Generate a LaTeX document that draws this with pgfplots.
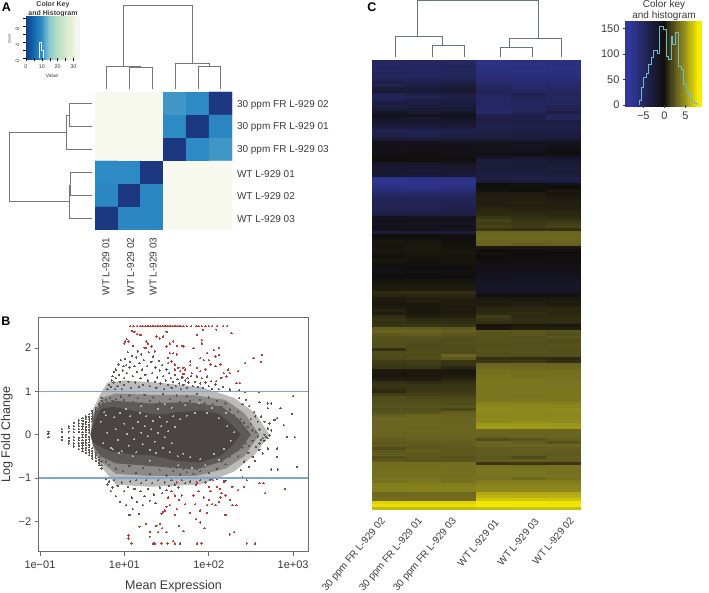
\documentclass[border=0pt]{standalone}
\usepackage{pgfplots}
\usepackage{pgfplotstable}
\usepackage{fontspec}
\setmainfont{Liberation Sans}
\pgfplotsset{compat=1.18}

\definecolor{txt}{HTML}{3A3A3A}
\definecolor{dend}{HTML}{767676}
\definecolor{dendc}{HTML}{66757F}
\definecolor{dots}{HTML}{4A4543}
\definecolor{fringe}{HTML}{5C5755}
\definecolor{lay1}{HTML}{BDBBB9}
\definecolor{lay2}{HTML}{8C8987}
\definecolor{lay3}{HTML}{5E5A58}
\definecolor{speck}{HTML}{B8B6B4}
\definecolor{redd}{HTML}{C23B33}
\definecolor{hline}{HTML}{7AA6D3}
\definecolor{cyanl}{HTML}{6FB9CB}

\pgfdeclareplotmark{bandC}{\pgfpathrectangle{\pgfpoint{-17.8pt}{-1.7pt}}{\pgfpoint{35.6pt}{3.4pt}}\pgfusepathqfill}
\pgfdeclareplotmark{keyA}{\pgfpathrectangle{\pgfpoint{-1.1pt}{-22pt}}{\pgfpoint{2.2pt}{44pt}}\pgfusepathqfill}
\pgfdeclareplotmark{keyC}{\pgfpathrectangle{\pgfpoint{-1.4pt}{-43pt}}{\pgfpoint{2.8pt}{86pt}}\pgfusepathqfill}

\pgfplotsset{
  colormap={gnbu}{rgb255(0cm)=(27,56,128); rgb255(4cm)=(11,95,165); rgb255(10cm)=(46,138,196);
    rgb255(15cm)=(136,200,207); rgb255(20cm)=(181,221,195); rgb255(27cm)=(220,235,208); rgb255(33cm)=(247,248,238)},
  colormap={bky}{rgb255(0cm)=(50,56,155); rgb255(8cm)=(16,14,12); rgb255(11cm)=(105,100,32);
    rgb255(13cm)=(150,145,28); rgb255(16cm)=(248,235,0)},
  canvas/.style={at={(0pt,0pt)},anchor=south west,scale only axis,width=709pt,height=592pt,
    xmin=0,xmax=709,ymin=0,ymax=592,y dir=reverse,hide axis,clip=false},
}

% panel A distances, row 0 on top
\pgfplotstableread{
x y z
0 0 33
1 0 33
2 0 33
3 0 11
4 0 10
5 0 0
0 1 33
1 1 33
2 1 33
3 1 10
4 1 0
5 1 9.5
0 2 33
1 2 33
2 2 33
3 2 0
4 2 10
5 2 11
0 3 10
1 3 10
2 3 0
3 3 33
4 3 33
5 3 33
0 4 9.5
1 4 0
2 4 9.5
3 4 33
4 4 33
5 4 33
0 5 0
1 5 9.5
2 5 9.5
3 5 33
4 5 33
5 5 33
}\heatA

% panel C, one row per band, y in pixels from the top
\pgfplotstableread{
y c1 c2 c3 c4 c5 c6
61.5 -4.8 -4.6 -4.7 -6.6 -6.4 -6.5
64.5 -5.0 -4.8 -4.6 -6.8 -6.6 -6.4
67.5 -4.5 -4.6 -4.3 -6.6 -6.5 -6.5
70.5 -4.8 -5.0 -4.6 -6.5 -6.6 -6.4
73.5 -4.4 -4.6 -4.4 -6.2 -6.3 -6.3
76.5 -4.6 -4.8 -4.5 -6.0 -6.2 -6.2
79.5 -4.0 -4.2 -4.0 -5.8 -6.0 -6.0
82.5 -3.4 -3.5 -3.2 -5.6 -5.8 -5.6
85.5 -3.8 -3.0 -2.8 -5.0 -5.4 -5.2
88.5 -2.6 -2.6 -2.2 -4.6 -5.0 -5.0
91.5 -2.2 -2.4 -2.0 -4.4 -4.8 -4.6
94.5 -4.0 -3.6 -3.0 -4.6 -3.8 -4.4
97.5 -4.2 -4.0 -3.4 -4.8 -4.0 -4.6
100.5 -3.8 -3.0 -3.0 -5.0 -4.4 -4.6
103.5 -2.8 -3.0 -2.8 -4.8 -4.6 -4.4
106.5 -3.0 -2.6 -2.6 -5.0 -4.6 -4.2
109.5 -2.6 -2.4 -2.2 -5.2 -4.8 -4.0
112.5 -1.6 -2.0 -1.6 -5.2 -4.2 -3.0
115.5 -0.8 -1.0 -0.8 -3.6 -3.4 -4.4
118.5 -1.6 -1.8 -1.6 -3.4 -3.2 -4.6
121.5 -2.0 -2.0 -1.8 -3.2 -3.2 -3.0
124.5 -2.2 -2.2 -2.0 -3.6 -3.4 -3.2
127.5 -2.8 -2.8 -2.6 -3.8 -3.4 -3.4
130.5 -3.8 -3.8 -3.6 -3.6 -3.2 -3.2
133.5 -3.6 -3.8 -3.4 -3.2 -3.0 -3.0
136.5 -3.2 -3.4 -3.0 -3.0 -2.8 -2.8
139.5 -2.4 -2.6 -2.4 -2.4 -2.6 -2.2
142.5 -0.8 -0.8 -1.0 -1.0 -1.2 -1.0
145.5 -0.6 -0.8 -0.8 -0.8 -1.2 -0.8
148.5 -0.7 -0.6 -0.7 -1.0 -1.0 -0.6
151.5 -0.6 -0.6 -0.6 -0.8 -0.8 -0.2
154.5 -0.6 -0.4 -0.5 -0.4 -0.4 -0.2
157.5 -0.3 -0.3 -0.4 -1.6 -1.8 -1.4
160.5 -0.1 -0.1 -0.2 -2.4 -2.4 -2.0
163.5 -1.4 -1.6 -1.2 -2.6 -2.6 -2.4
166.5 -2.0 -2.0 -1.8 -2.8 -2.6 -2.6
169.5 -2.0 -2.2 -2.0 -2.6 -2.6 -2.8
172.5 -1.8 -2.0 -2.0 -2.8 -2.8 -2.6
175.5 -2.2 -2.2 -2.4 -3.0 -3.0 -2.8
178.5 -7.0 -6.8 -6.6 -3.0 -3.2 -3.4
181.5 -7.4 -7.2 -7.0 -2.4 -2.6 -3.0
184.5 -7.0 -7.0 -6.8 0.0 -0.2 -0.6
187.5 -6.6 -6.8 -6.4 0.1 0.1 0.0
190.5 -6.0 -6.2 -5.8 0.1 0.0 0.3
193.5 -5.4 -5.2 -5.2 0.4 0.4 0.2
196.5 -4.6 -4.6 -4.4 0.6 0.6 0.4
199.5 -4.2 -4.2 -4.0 0.6 0.6 0.5
202.5 -4.0 -4.0 -4.0 0.6 0.7 0.6
205.5 -4.0 -4.2 -3.8 0.6 0.6 0.6
208.5 -3.8 -4.0 -3.6 0.8 0.7 0.6
211.5 -3.6 -3.4 -3.4 0.9 0.8 0.8
214.5 -3.0 -3.0 -3.0 1.0 1.0 0.9
217.5 -1.0 -1.2 -1.0 1.4 1.2 1.0
220.5 -0.8 -0.8 -0.8 1.8 1.4 1.4
223.5 -1.0 -1.0 -1.2 1.6 1.5 1.6
226.5 -0.8 -1.0 -0.8 1.8 1.6 1.8
229.5 -0.8 -0.8 -1.0 1.4 1.2 1.2
232.5 -2.6 -2.4 -2.6 3.0 3.0 3.0
235.5 0.0 0.0 -0.2 3.2 3.2 3.2
238.5 0.1 0.1 -0.1 3.2 3.2 3.1
241.5 0.3 0.2 0.1 3.0 3.0 3.0
244.5 0.3 0.3 0.1 3.0 2.8 2.9
247.5 0.2 0.4 0.2 0.3 0.3 0.3
250.5 0.3 0.4 0.3 0.0 0.1 0.1
253.5 0.2 0.3 0.3 0.1 -0.1 0.0
256.5 0.1 0.2 0.2 0.0 -0.2 -0.1
259.5 0.3 0.2 0.2 -0.1 -0.1 -0.1
262.5 0.2 0.1 0.2 -0.2 -0.4 -0.2
265.5 0.1 0.1 0.1 -0.6 -0.6 -0.5
268.5 -0.4 -0.3 -0.3 -0.6 -0.8 -0.6
271.5 -0.5 -0.4 -0.4 -0.8 -0.8 -0.8
274.5 -0.3 -0.2 -0.3 -1.0 -1.0 -0.9
277.5 0.0 0.1 0.0 -1.0 -1.2 -1.0
280.5 0.2 0.2 0.2 -1.4 -1.4 -1.4
283.5 0.3 0.3 0.3 -1.6 -1.6 -1.6
286.5 0.4 0.4 0.4 -1.6 -1.6 -1.6
289.5 0.5 0.5 0.5 -1.6 -1.6 -1.6
292.5 1.0 1.1 1.1 -1.4 -1.4 -1.4
295.5 0.8 0.9 0.9 0.1 0.1 0.1
298.5 0.5 0.6 0.6 0.3 0.4 0.3
301.5 0.4 0.6 0.5 0.5 0.5 0.5
304.5 0.3 0.3 0.5 0.5 0.6 0.5
307.5 0.5 0.3 0.4 0.8 0.8 0.8
310.5 0.7 0.4 0.5 0.9 0.9 0.9
313.5 0.5 0.4 0.5 1.0 1.1 0.9
316.5 1.1 0.6 0.6 1.6 1.0 1.0
319.5 1.3 1.0 1.0 1.4 1.2 1.1
322.5 1.2 1.1 1.1 1.2 1.0 1.0
325.5 1.3 1.4 1.3 0.2 0.4 0.3
328.5 2.8 2.7 2.6 0.3 0.6 0.6
331.5 3.0 3.0 2.8 2.5 2.5 2.4
334.5 2.6 2.8 2.5 2.4 2.5 2.3
337.5 2.4 2.4 2.3 2.4 2.3 2.5
340.5 2.3 2.3 2.2 2.4 2.4 2.2
343.5 2.3 2.2 2.3 2.3 2.3 2.3
346.5 2.3 2.1 2.2 2.3 2.3 2.4
349.5 1.2 2.2 2.2 2.4 2.3 2.3
352.5 2.2 2.2 2.1 2.3 2.4 2.3
355.5 2.2 2.1 3.0 2.2 2.2 2.3
358.5 2.0 2.2 2.6 1.2 1.1 1.0
361.5 1.6 1.7 1.4 1.4 1.5 1.2
364.5 1.5 1.6 1.3 3.0 3.0 3.0
367.5 1.4 1.4 0.9 3.2 3.2 3.1
370.5 0.4 0.5 0.3 3.6 3.4 3.4
373.5 0.3 0.4 0.3 3.6 3.6 3.6
376.5 0.3 0.3 0.5 3.7 3.5 3.6
379.5 0.6 0.5 0.8 3.7 3.7 3.6
382.5 1.2 1.0 1.1 3.9 3.8 3.7
385.5 1.4 1.3 1.3 3.8 3.8 3.7
388.5 1.2 1.4 1.4 3.7 3.7 3.7
391.5 0.9 1.5 1.5 3.7 3.8 3.8
394.5 1.7 1.7 1.7 3.8 3.8 3.8
397.5 2.2 2.0 2.0 3.8 3.7 3.8
400.5 2.2 2.2 2.1 3.8 3.9 3.8
403.5 2.3 2.3 2.2 4.4 4.4 4.3
406.5 2.4 2.4 2.4 4.6 4.6 4.5
409.5 2.3 2.3 2.0 4.7 4.6 4.7
412.5 2.4 2.4 2.8 4.6 4.6 4.6
415.5 2.8 3.0 2.9 4.5 4.6 4.5
418.5 3.1 3.0 3.0 4.6 4.6 4.6
421.5 3.0 3.0 3.0 4.6 4.8 4.7
424.5 3.0 3.0 3.0 5.2 5.2 5.1
427.5 3.0 3.0 3.0 5.4 5.3 5.2
430.5 3.0 3.1 3.0 3.2 3.1 3.0
433.5 3.0 3.0 3.0 3.0 3.0 3.0
436.5 3.0 3.0 3.0 2.9 3.0 3.0
439.5 2.7 2.9 2.9 2.2 2.4 2.8
442.5 2.6 2.7 2.8 3.0 2.8 2.4
445.5 2.7 2.6 2.7 3.0 3.0 3.0
448.5 2.2 2.6 2.6 2.8 2.8 2.8
451.5 2.6 2.8 2.6 2.7 2.8 2.7
454.5 2.7 2.6 2.6 2.7 2.7 2.6
457.5 2.3 2.5 2.4 2.6 2.1 2.8
460.5 2.6 2.4 2.5 2.7 2.8 2.7
463.5 3.4 3.4 3.4 1.4 1.4 1.4
466.5 3.4 3.4 3.4 3.6 3.5 3.6
469.5 3.5 3.5 3.4 3.8 3.7 3.6
472.5 3.6 3.6 3.5 3.7 3.7 3.6
475.5 3.4 3.4 3.5 3.7 3.7 3.7
478.5 3.7 3.7 3.6 3.6 3.2 3.6
481.5 3.6 3.8 3.6 4.0 4.0 4.0
484.5 4.2 4.2 4.1 4.4 4.4 4.4
487.5 4.3 4.3 4.3 4.5 4.5 4.5
490.5 4.2 4.3 4.3 4.6 4.6 4.6
493.5 3.2 3.2 3.2 5.8 5.7 5.7
496.5 3.3 3.3 3.3 6.2 6.1 6.1
499.5 3.4 3.3 3.3 6.8 6.8 6.7
502.5 7.2 7.2 7.2 7.8 7.8 7.7
505.5 7.6 7.6 7.6 7.9 7.8 7.8
508.5 6.4 6.4 6.4 6.6 6.6 6.6
}\heatC

\begin{document}
\begin{tikzpicture}
\useasboundingbox (0,0) rectangle (709pt,592pt);

% dendrograms and free text, in pixel units
\begin{axis}[canvas]
% A top
\addplot[dend,line width=1pt] coordinates {(123.3,66.7)(123.3,5.7)(192.3,5.7)(192.3,63.3)};
\addplot[dend,line width=1pt] coordinates {(106.7,89)(106.7,66.7)(140.7,66.7)(140.7,67.7)};
\addplot[dend,line width=1pt] coordinates {(129.3,89)(129.3,67.7)(152.3,67.7)(152.3,89)};
\addplot[dend,line width=1pt] coordinates {(175,89)(175,63.3)(209.7,63.3)(209.7,66.3)};
\addplot[dend,line width=1pt] coordinates {(198,89)(198,66.3)(220.7,66.3)(220.7,89)};
% A left
\addplot[dend,line width=1pt] coordinates {(66.7,132.3)(9,132.3)(9,201.3)(70,201.3)};
\addplot[dend,line width=1pt] coordinates {(69.3,115.7)(66.7,115.7)(66.7,149.7)(92,149.7)};
\addplot[dend,line width=1pt] coordinates {(92,103.7)(69.3,103.7)(69.3,126.3)(92,126.3)};
\addplot[dend,line width=1pt] coordinates {(92,172.7)(70.7,172.7)(70.7,195.7)(92,195.7)};
\addplot[dend,line width=1pt] coordinates {(70.7,185)(69.3,185)(69.3,218.3)(92,218.3)};
% C top
\addplot[dendc,line width=1pt] coordinates {(417.7,36.3)(417.7,0.6)(538,0.6)(538,38.3)};
\addplot[dendc,line width=1pt] coordinates {(395.7,57.3)(395.7,36.3)(442.3,36.3)(442.3,45.7)};
\addplot[dendc,line width=1pt] coordinates {(432.3,57.3)(432.3,45.7)(464,45.7)(464,57.3)};
\addplot[dendc,line width=1pt] coordinates {(509.7,47.3)(509.7,38.3)(561,38.3)(561,57.3)};
\addplot[dendc,line width=1pt] coordinates {(500,57.3)(500,47.3)(532.3,47.3)(532.3,57.3)};

\node[font=\fontsize{12.5}{14}\selectfont\bfseries,anchor=center] at (axis cs:6.5,7.5) {A};
\node[font=\fontsize{12.5}{14}\selectfont\bfseries,anchor=center] at (axis cs:6,321) {B};
\node[font=\fontsize{12.5}{14}\selectfont\bfseries,anchor=center] at (axis cs:372,7) {C};

\node[font=\fontsize{7}{8}\selectfont\bfseries,text=txt] at (axis cs:53,5) {Color Key};
\node[font=\fontsize{7}{8}\selectfont\bfseries,text=txt] at (axis cs:53,13.5) {and Histogram};
\node[font=\fontsize{5}{6}\selectfont,text=txt] at (axis cs:52,75.5) {Value};
\node[font=\fontsize{3.6}{4}\selectfont,text=txt,rotate=90] at (axis cs:9.5,39) {Count};
\node[font=\fontsize{10}{12}\selectfont,text=txt] at (axis cs:664,4.5) {Color key};
\node[font=\fontsize{10}{12}\selectfont,text=txt] at (axis cs:664,16) {and histogram};

\foreach \yy/\lab in {104.7/30 ppm FR L-929 02,127.3/30 ppm FR L-929 01,150/30 ppm FR L-929 03,174.3/WT L-929 01,196.3/WT L-929 02,219/WT L-929 03}{
  \edef\tmp{\noexpand\node[anchor=west,font=\noexpand\fontsize{10}{12}\noexpand\selectfont,text=txt] at (axis cs:233.5,\yy) {\lab};}\tmp
}
\node[anchor=east,rotate=90,font=\fontsize{10}{12}\selectfont,text=txt] at (axis cs:106,234) {WT L-929 01};
\node[anchor=east,rotate=90,font=\fontsize{10}{12}\selectfont,text=txt] at (axis cs:130.7,234) {WT L-929 02};
\node[anchor=east,rotate=90,font=\fontsize{10}{12}\selectfont,text=txt] at (axis cs:153.3,234) {WT L-929 03};

\node[anchor=east,rotate=50,font=\fontsize{10}{12}\selectfont,text=txt] at (axis cs:386,517) {30 ppm FR L-929 02};
\node[anchor=east,rotate=50,font=\fontsize{10}{12}\selectfont,text=txt] at (axis cs:423,517) {30 ppm FR L-929 01};
\node[anchor=east,rotate=50,font=\fontsize{10}{12}\selectfont,text=txt] at (axis cs:457,517) {30 ppm FR L-929 03};
\node[anchor=east,rotate=50,font=\fontsize{10}{12}\selectfont,text=txt] at (axis cs:499,518) {WT L-929 01};
\node[anchor=east,rotate=50,font=\fontsize{10}{12}\selectfont,text=txt] at (axis cs:539,517) {WT L-929 03};
\node[anchor=east,rotate=50,font=\fontsize{10}{12}\selectfont,text=txt] at (axis cs:574,516) {WT L-929 02};
\end{axis}

% A colour key
\begin{axis}[at={(26pt,533.7pt)},anchor=south west,scale only axis,width=54.3pt,height=40.6pt,
  xmin=0,xmax=34.3,ymin=0,ymax=10.2,axis on top,clip mode=individual,colormap name=gnbu,
  point meta min=0,point meta max=33,
  axis line style={draw=none},
  xtick={0,5,10,15,20,25,30},xticklabels={0,,10,,20,,30},
  ytick={0,2,4,6,8,10},yticklabels={0,,4,,8,},
  xtick pos=bottom,ytick pos=left,tick align=outside,major tick length=3pt,
  tick style={draw=black,line width=0.4pt},
  tick label style={font=\fontsize{5.4}{6}\selectfont,text=txt},
  yticklabel style={rotate=90,anchor=south,xshift=-3pt}]
\addplot[scatter,only marks,mark=keyA,point meta=x] coordinates {
(0.5,5)(1.5,5)(2.5,5)(3.5,5)(4.5,5)(5.5,5)(6.5,5)(7.5,5)(8.5,5)(9.5,5)(10.5,5)(11.5,5)
(12.5,5)(13.5,5)(14.5,5)(15.5,5)(16.5,5)(17.5,5)(18.5,5)(19.5,5)(20.5,5)(21.5,5)(22.5,5)
(23.5,5)(24.5,5)(25.5,5)(26.5,5)(27.5,5)(28.5,5)(29.5,5)(30.5,5)(31.5,5)(32.5,5)(33.5,5)};
\addplot[const plot,draw=cyan!12!white,line width=0.5pt] coordinates {
(8.6,0)(8.6,4)(9.6,4)(9.6,2)(10.6,2)(10.6,0)};
\addplot[const plot,draw=cyan!12!white,line width=0.5pt] coordinates {
(32.8,0)(32.8,2)(33.4,2)(33.4,10)(34.0,10)};
\end{axis}

% A heatmap
\begin{axis}[at={(95pt,362pt)},anchor=south west,scale only axis,width=137pt,height=138pt,
  xmin=-0.5,xmax=5.5,ymin=-0.5,ymax=5.5,y dir=reverse,hide axis,colormap name=gnbu,
  point meta min=0,point meta max=33]
\addplot[matrix plot*,mesh/cols=6,point meta=explicit] table[x=x,y=y,meta=z]{\heatA};
\end{axis}

% B MA plot, x is log10 of mean expression as placed on the axis
\begin{axis}[at={(38.7pt,40.3pt)},anchor=south west,scale only axis,width=269.6pt,height=234.4pt,
  xmin=-0.015,xmax=3.18,ymin=-2.696,ymax=2.705,clip mode=individual,axis on top,
  axis line style={draw=gray!85!black,line width=0.9pt},
  xtick={0,1,2,3},xticklabels={1e−01,1e+01,1e+02,1e+03},
  ytick={-2,-1,0,1,2},yticklabels={−2,−1,0,1,2},
  xtick pos=bottom,ytick pos=left,tick align=outside,major tick length=4pt,
  tick style={draw=gray!85!black,line width=0.6pt},
  tick label style={font=\fontsize{11}{13}\selectfont,text=txt},
  xticklabel style={yshift=-2pt},
  xlabel={Mean Expression},ylabel={Log Fold Change},
  label style={font=\fontsize{12.5}{15}\selectfont,text=txt},
  xlabel style={yshift=-5pt},ylabel style={yshift=-1pt}]
% density envelopes of the cloud, light to dark
\addplot[fill=lay1,draw=none] coordinates {
(0.62,0.55)(0.72,0.95)(0.8,1.2)(1.0,1.25)(1.4,1.2)(1.9,1.1)(2.3,0.85)(2.55,0.5)(2.72,0)
(2.55,-0.45)(2.3,-0.85)(1.9,-1.15)(1.3,-1.2)(0.9,-1.15)(0.75,-0.8)(0.65,-0.45)(0.6,0)} --cycle;
\addplot[fill=lay2,draw=none] coordinates {
(0.64,0.5)(0.74,0.85)(0.9,0.95)(1.3,0.92)(1.8,0.92)(2.2,0.8)(2.42,0.5)(2.6,0)
(2.42,-0.5)(2.2,-0.78)(1.85,-0.95)(1.3,-0.95)(0.9,-0.9)(0.74,-0.65)(0.65,-0.4)(0.6,0)} --cycle;
\addplot[fill=lay3,draw=none] coordinates {
(0.64,0.46)(0.73,0.72)(0.9,0.78)(1.3,0.72)(1.75,0.75)(2.15,0.65)(2.36,0.36)(2.5,0)
(2.36,-0.36)(2.15,-0.62)(1.85,-0.8)(1.3,-0.72)(0.9,-0.66)(0.72,-0.5)(0.63,-0.25)(0.6,0)} --cycle;
\addplot[fill=dots,draw=none] coordinates {
(0.6,0)(0.67,0.42)(0.73,0.6)(0.87,0.64)(1.105,0.55)(1.38,0.46)(1.66,0.52)(1.93,0.56)(2.13,0.47)(2.27,0.24)(2.38,0)
(2.27,-0.26)(2.13,-0.5)(1.90,-0.64)(1.62,-0.6)(1.34,-0.48)(1.07,-0.45)(0.83,-0.38)(0.69,-0.26)(0.63,-0.16)} --cycle;
% light gaps in the cloud
\addplot[only marks,mark=*,mark size=0.5pt,speck,mark options={line width=0pt}] coordinates {
(0.72,0.3)(0.75,-0.2)(0.78,0.45)(0.8,0.05)(0.84,-0.3)(0.88,0.4)(0.9,0.12)(0.92,-0.12)(0.95,0.5)(0.97,-0.38)(1.0,0.25)(1.03,0.02)
(1.05,-0.25)(1.07,0.42)(1.1,0.15)(1.12,-0.1)(1.14,-0.4)(1.16,0.3)(1.18,0.5)(1.2,0.05)(1.22,-0.22)(1.24,0.2)(1.26,0.42)(1.28,-0.04)
(1.3,-0.35)(1.32,0.12)(1.34,0.32)(1.36,-0.16)(1.38,-0.42)(1.4,0.04)(1.42,0.4)(1.44,0.2)(1.46,-0.3)(1.48,-0.06)(1.5,0.3)(1.52,0.08)
(1.54,-0.4)(1.56,-0.2)(1.58,0.42)(1.6,0.18)(1.63,-0.5)(1.66,0.36)(1.7,-0.44)(1.74,0.44)(1.78,-0.52)(1.84,0.5)(1.9,-0.56)(1.98,0.5)
(2.06,-0.44)(2.12,0.38)(2.18,-0.32)(2.22,0.2)(2.26,-0.14)(2.3,0.06)(0.76,0.52)(0.86,-0.34)(0.94,-0.42)(1.02,0.6)(1.1,-0.5)(1.2,0.66)
(1.3,-0.6)(1.4,0.6)(1.48,0.7)(1.56,0.62)(1.64,-0.7)(1.72,0.68)(1.8,-0.76)(1.88,0.72)(1.96,-0.7)(2.04,0.62)(2.12,-0.58)(2.2,0.5)};
% low count lattice, mid band and fringes
\addplot[only marks,mark=*,mark size=0.65pt,fringe,mark options={line width=0pt}] coordinates {
(0.10,0.07)(0.10,0.02)(0.10,-0.06)
(0.26,0.13)(0.26,0.07)(0.26,-0.05)(0.26,-0.12)
(0.34,0.2)(0.34,0.15)(0.34,0.07)(0.34,-0.07)(0.34,-0.14)(0.34,-0.2)
(0.40,0.27)(0.40,0.2)(0.40,0.13)(0.40,0.06)(0.40,-0.06)(0.40,-0.13)(0.40,-0.2)(0.40,-0.27)
(0.46,0.33)(0.46,0.26)(0.46,0.2)(0.46,0.13)(0.46,0.07)(0.46,-0.07)(0.46,-0.13)(0.46,-0.2)(0.46,-0.26)(0.46,-0.33)
(0.505,0.38)(0.505,0.32)(0.505,0.25)(0.505,0.19)(0.505,0.13)(0.505,0.06)(0.505,0)(0.505,-0.06)(0.505,-0.13)(0.505,-0.19)(0.505,-0.25)(0.505,-0.32)(0.505,-0.38)
(0.545,0.42)(0.545,0.36)(0.545,0.3)(0.545,0.24)(0.545,0.18)(0.545,0.12)(0.545,0.06)(0.545,0)(0.545,-0.06)(0.545,-0.12)(0.545,-0.18)(0.545,-0.24)(0.545,-0.3)(0.545,-0.36)(0.545,-0.42)
(0.585,0.47)(0.585,0.41)(0.585,0.35)(0.585,0.29)(0.585,0.23)(0.585,0.17)(0.585,0.11)(0.585,0.05)(0.585,-0.05)(0.585,-0.11)(0.585,-0.17)(0.585,-0.23)(0.585,-0.29)(0.585,-0.35)(0.585,-0.41)(0.585,-0.47)
(0.62,0.55)(0.62,0.49)(0.62,0.43)(0.62,0.37)(0.62,0.31)(0.62,-0.31)(0.62,-0.37)(0.62,-0.43)(0.62,-0.49)(0.62,-0.55)
(0.66,0.62)(0.66,0.56)(0.66,0.5)(0.66,-0.42)(0.66,-0.48)(0.66,-0.54)(0.66,-0.6)
(0.70,0.72)(0.70,0.66)(0.70,-0.52)(0.70,-0.58)(0.70,-0.64)(0.70,-0.7)
(0.73,0.85)(0.73,0.78)(0.73,-0.62)(0.73,-0.7)(0.73,-0.78)
(0.75,0.72)(0.78,0.8)(0.80,0.75)(0.83,0.84)(0.86,0.78)(0.9,0.82)(0.93,0.74)(0.96,0.88)(1.0,0.8)(1.03,0.7)(1.06,0.9)(1.1,0.76)
(1.13,0.68)(1.16,0.84)(1.2,0.72)(1.24,0.92)(1.27,0.64)(1.3,0.78)(1.34,0.86)(1.38,0.66)(1.42,0.74)(1.46,0.94)(1.5,0.68)(1.54,0.82)
(1.58,0.7)(1.62,0.9)(1.66,0.76)(1.7,0.66)(1.74,0.88)(1.78,0.78)(1.82,0.7)(1.86,0.94)(1.9,0.8)(1.95,0.72)(2.0,0.86)(2.05,0.7)
(2.1,0.78)(2.15,0.64)(2.2,0.72)(2.25,0.58)(2.3,0.44)(2.35,0.52)(2.38,0.36)(2.42,0.28)(2.46,0.18)(2.5,0.24)
(0.78,-0.62)(0.82,-0.7)(0.86,-0.56)(0.9,-0.78)(0.94,-0.62)(0.98,-0.84)(1.02,-0.58)(1.06,-0.72)(1.1,-0.64)(1.14,-0.88)(1.18,-0.6)
(1.22,-0.76)(1.26,-0.66)(1.3,-0.9)(1.34,-0.7)(1.38,-0.62)(1.42,-0.82)(1.46,-0.72)(1.5,-0.94)(1.54,-0.74)(1.58,-0.84)(1.62,-0.76)
(1.66,-0.92)(1.7,-0.78)(1.74,-0.86)(1.78,-0.76)(1.82,-0.9)(1.86,-0.78)(1.9,-0.84)(1.95,-0.74)(2.0,-0.88)(2.05,-0.66)(2.1,-0.78)
(2.15,-0.62)(2.2,-0.68)(2.25,-0.5)(2.3,-0.4)(2.35,-0.5)(2.4,-0.3)(2.44,-0.2)(2.48,-0.26)(2.52,-0.14)
(0.80,1.05)(0.82,1.15)(0.84,1.1)(0.85,1.25)(0.86,1.35)(0.87,1.2)(0.88,1.45)(0.89,1.05)(0.9,1.3)(0.9,1.5)(0.92,1.12)(0.93,1.62)
(0.94,1.38)(0.95,1.22)(0.96,1.72)(0.97,1.05)(0.98,1.48)(0.99,1.58)(1.0,1.3)(1.0,1.15)(1.01,1.75)(1.02,1.6)(1.03,1.42)(1.04,1.9)
(1.05,1.22)(1.06,1.55)(1.07,1.68)(1.08,1.08)(1.09,1.82)(1.1,1.35)(1.1,2.05)(1.12,1.58)(1.13,1.2)(1.14,1.78)(1.15,1.45)(1.16,1.92)
(1.17,1.1)(1.18,1.65)(1.19,1.3)(1.2,1.85)(1.21,1.5)(1.22,1.15)(1.23,1.72)(1.24,2.0)(1.25,1.38)(1.27,1.58)(1.28,1.25)(1.29,1.9)
(1.3,1.12)(1.32,1.68)(1.33,1.42)(1.34,1.8)(1.36,1.22)(1.37,1.55)(1.38,1.08)(1.39,1.32)(1.41,1.7)(1.42,1.48)(1.43,1.18)(1.45,1.6)
(1.46,1.35)(1.47,1.05)(1.49,1.25)(1.5,1.5)(1.52,1.15)(1.53,1.42)(1.55,1.3)(1.56,1.08)(1.58,1.22)(1.6,1.38)(1.61,1.12)(1.63,1.28)
(1.65,1.18)(1.67,1.05)(1.69,1.32)(1.7,1.15)(1.72,1.25)(1.74,1.08)(1.76,1.2)(1.79,1.35)(1.81,1.12)(1.84,1.22)(1.87,1.1)(1.9,1.18)
(1.93,1.08)(1.96,1.2)(2.0,1.12)(2.04,1.06)(2.08,1.16)(2.12,1.05)(2.17,1.1)(2.25,1.04)(2.36,1.02)(2.43,0.98)
(0.78,-1.02)(0.8,-1.15)(0.82,-1.08)(0.84,-1.3)(0.86,-1.22)(0.88,-1.05)(0.9,-1.42)(0.92,-1.18)(0.95,-1.55)(0.97,-1.1)(1.0,-1.3)
(1.02,-1.62)(1.04,-1.2)(1.06,-1.85)(1.07,-1.08)(1.09,-1.45)(1.1,-1.72)(1.12,-1.25)(1.14,-1.05)(1.15,-1.55)(1.17,-1.82)(1.19,-1.3)
(1.2,-1.12)(1.22,-1.62)(1.24,-1.42)(1.26,-1.05)(1.28,-1.25)(1.3,-1.52)(1.33,-1.12)(1.35,-1.38)(1.37,-1.58)(1.4,-1.05)(1.42,-1.22)
(1.45,-1.35)(1.48,-1.1)(1.5,-1.28)(1.53,-1.18)(1.56,-1.05)(1.6,-1.15)(1.64,-1.22)(1.68,-1.05)(1.72,-1.12)(1.78,-1.08)(1.85,-1.15)
(1.9,-1.05)(1.96,-1.1)(2.02,-1.04)(2.1,-1.02)(2.2,-1.06)(2.32,-1.0)(2.4,-0.98)
(3.0,0.89)(2.99,0.48)(3.02,-0.06)(3.05,-0.74)(2.93,-0.05)(2.89,0.22)(2.85,0.61)(2.74,0.72)(2.70,0.72)(2.70,0.61)(2.6,0.75)(2.6,0.99)
(2.81,0.38)(2.78,0.34)(2.72,0.26)(2.74,0.1)(2.68,-0.05)(2.66,0)(2.64,-0.08)(2.62,-0.12)(2.70,-0.08)(2.72,-0.02)(2.66,-0.14)(2.6,0.12)
(2.58,0.3)(2.55,0.42)(2.62,0.42)(2.66,0.3)(2.7,0.14)(2.82,-0.8)(2.74,-0.8)(2.81,-0.51)(2.81,-0.32)(2.7,-0.32)(2.64,-0.43)(2.6,-0.35)
(2.56,-0.28)(2.52,-0.51)(2.48,-0.74)(2.55,-0.6)(2.6,-0.2)(2.52,0.1)(2.56,0.06)(2.58,-0.04)(2.54,0.52)(2.48,0.66)(2.5,0.36)(2.44,0.8)
(2.47,-0.42)(2.42,-0.62)(2.38,-0.82)(2.4,0.7)(2.36,0.84)};
% clipped and shrunken changes in red
\addplot[only marks,mark=*,mark size=0.65pt,redd,mark options={line width=0pt}] coordinates {
(1.07,2.5)(1.11,2.5)(1.15,2.5)(1.19,2.5)(1.22,2.5)(1.25,2.5)(1.27,2.5)(1.29,2.5)(1.31,2.5)(1.33,2.5)(1.35,2.5)(1.37,2.5)(1.39,2.5)(1.41,2.5)
(1.43,2.5)(1.45,2.5)(1.47,2.5)(1.49,2.5)(1.51,2.5)(1.53,2.5)(1.55,2.5)(1.57,2.5)(1.59,2.5)(1.61,2.5)(1.63,2.5)(1.65,2.5)(1.67,2.5)(1.7,2.5)
(1.74,2.5)(1.79,2.5)(1.85,2.5)(1.88,2.5)(1.92,2.5)(1.96,2.5)(2.0,2.5)(2.04,2.5)(2.1,2.5)(2.17,2.5)(2.22,2.5)
(1.09,2.39)(1.12,2.37)(1.15,2.32)(1.19,2.3)(1.03,2.2)(1.01,2.15)(1.05,2.15)(1.0,2.1)(1.2,2.29)(1.26,2.15)(1.28,2.1)(1.38,2.26)(1.42,2.22)
(1.46,2.26)(1.5,2.37)(1.32,2.03)(1.26,2.0)(1.36,1.92)(1.5,2.03)(1.54,2.1)(1.58,2.15)(1.62,2.05)(1.68,2.05)(1.7,2.03)(1.54,1.88)(1.58,1.88)
(1.62,1.85)(1.52,1.77)(1.56,1.69)(1.6,1.62)(1.64,1.54)(1.66,1.46)(1.6,1.5)(1.52,1.65)(1.7,1.54)(1.72,1.5)(1.78,1.69)(1.86,2.3)(1.92,2.18)
(1.92,2.1)(1.82,1.99)(1.98,1.88)(2.06,1.95)(2.12,2.0)(1.9,1.76)(1.94,1.72)(2.0,1.72)(2.08,1.8)(2.12,1.84)(1.78,1.6)(1.8,1.42)(1.86,1.54)
(1.9,1.46)(1.96,1.5)(2.02,1.62)(2.08,1.58)(2.14,1.62)(2.18,1.42)(2.23,1.5)(1.86,1.34)(1.92,1.3)(1.98,1.34)(2.03,1.23)(2.09,1.23)(2.15,1.31)
(2.21,1.34)(2.25,1.42)(2.33,1.19)(2.37,1.19)(2.35,1.46)(2.43,1.65)(2.53,1.76)(2.63,1.84)(2.62,1.68)(2.27,2.34)(2.09,2.42)(1.93,2.42)
(1.7,1.4)(1.75,1.3)(1.68,1.32)
(1.05,-2.32)(1.05,-2.39)(1.18,-2.12)(1.26,-2.05)(1.3,-2.24)(1.3,-2.35)(1.42,-2.05)(1.46,-1.78)(1.48,-1.75)(1.44,-1.82)(1.5,-1.66)(1.54,-1.62)
(1.38,-2.1)(1.45,-2.15)(1.5,-2.25)(1.4,-2.25)(1.6,-1.85)(1.62,-1.72)(1.65,-2.1)(1.7,-2.22)(1.65,-1.5)(1.68,-1.4)(1.72,-1.6)(1.78,-1.8)
(1.6,-1.4)(1.56,-1.3)(1.52,-1.45)(1.84,-1.6)(1.9,-1.75)(1.85,-1.95)(1.9,-2.02)(1.95,-2.15)(1.98,-1.8)(1.82,-1.4)(1.88,-1.3)(1.94,-1.45)
(2.0,-1.5)(2.04,-1.6)(2.08,-1.62)(2.12,-1.55)(2.14,-1.45)(2.15,-1.35)(2.13,-1.25)(2.02,-1.3)(2.0,-1.2)(1.98,-1.62)(2.1,-1.2)(2.2,-1.4)
(2.25,-1.5)(2.28,-1.2)(2.33,-1.62)(2.28,-1.62)(2.2,-1.85)(2.3,-2.25)(2.25,-2.3)(2.6,-1.12)(2.65,-1.12)(2.67,-1.35)(2.9,-1.25)(2.42,-1.2)
(1.86,-1.1)(2.05,-1.05)(2.18,-1.08)(2.35,-1.28)(1.62,-1.1)(2.45,-1.05)
(1.086,-2.51)(1.342,-2.51)(1.362,-2.51)(1.44,-2.51)(1.512,-2.51)(1.6,-2.51)(1.66,-2.51)(1.58,-2.45)(1.863,-2.51)(1.915,-2.51)(2.45,-2.51)(2.55,-2.51)};
% fold change thresholds, the upper one repeated: the first line after the marks comes out thin
\addplot[draw=hline,line width=1.5pt,no markers] coordinates {(-0.015,1)(3.18,1)};
\addplot[draw=hline,line width=1.5pt,no markers] coordinates {(-0.015,1)(3.18,1)};
\addplot[draw=hline,line width=1.5pt,no markers] coordinates {(-0.015,-1)(3.18,-1)};
\end{axis}

% C heatmap
\begin{axis}[at={(372pt,83pt)},anchor=south west,scale only axis,width=209pt,height=449pt,
  xmin=0,xmax=6,ymin=60,ymax=509,y dir=reverse,hide axis,clip mode=individual,colormap name=bky,
  point meta min=-8,point meta max=8]
\pgfplotsinvokeforeach{1,2,3,4,5,6}{
  \addplot[scatter,only marks,mark=bandC,point meta=explicit] table[x expr=#1-0.5,y=y,meta=c#1]{\heatC};
}
\end{axis}

% C colour key
\begin{axis}[at={(626pt,487pt)},anchor=south west,scale only axis,width=76pt,height=82.3pt,
  xmin=-9.1,xmax=8.9,ymin=0,ymax=162,axis on top,clip mode=individual,colormap name=bky,
  point meta min=-8,point meta max=8,
  axis line style={draw=none},
  xtick={-5,0,5},xticklabels={−5,0,5},
  ytick={0,50,100,150},
  xtick pos=bottom,ytick pos=left,tick align=outside,major tick length=3pt,
  tick style={draw=txt,line width=0.6pt},
  tick label style={font=\fontsize{11}{13}\selectfont,text=txt},
  /pgf/number format/assume math mode=true]
\addplot[scatter,only marks,mark=keyC,point meta=x] coordinates {
(-9,81)(-8.5,81)(-8,81)(-7.5,81)(-7,81)(-6.5,81)(-6,81)(-5.5,81)(-5,81)(-4.5,81)(-4,81)(-3.5,81)
(-3,81)(-2.5,81)(-2,81)(-1.5,81)(-1,81)(-0.5,81)(0,81)(0.5,81)(1,81)(1.5,81)(2,81)(2.5,81)(3,81)
(3.5,81)(4,81)(4.5,81)(5,81)(5.5,81)(6,81)(6.5,81)(7,81)(7.5,81)(8,81)(8.5,81)(9,81)};
\addplot[const plot,draw=cyanl,line width=0.8pt] coordinates {
(-9.1,0)(-5.87,10)(-5.47,35)(-4.9,55)(-4.36,62)(-3.72,80)(-3.17,93)(-2.54,107)(-1.75,102)(-1.1,155)(-0.32,148)
(0.48,95)(1.03,90)(1.59,135)(1.98,120)(2.6,143)(3.25,75)(3.97,70)(4.6,40)(5.15,25)(5.8,20)(6.4,8)(7.1,3)(7.7,0)(8.9,0)};
\end{axis}
\end{tikzpicture}
\end{document}
